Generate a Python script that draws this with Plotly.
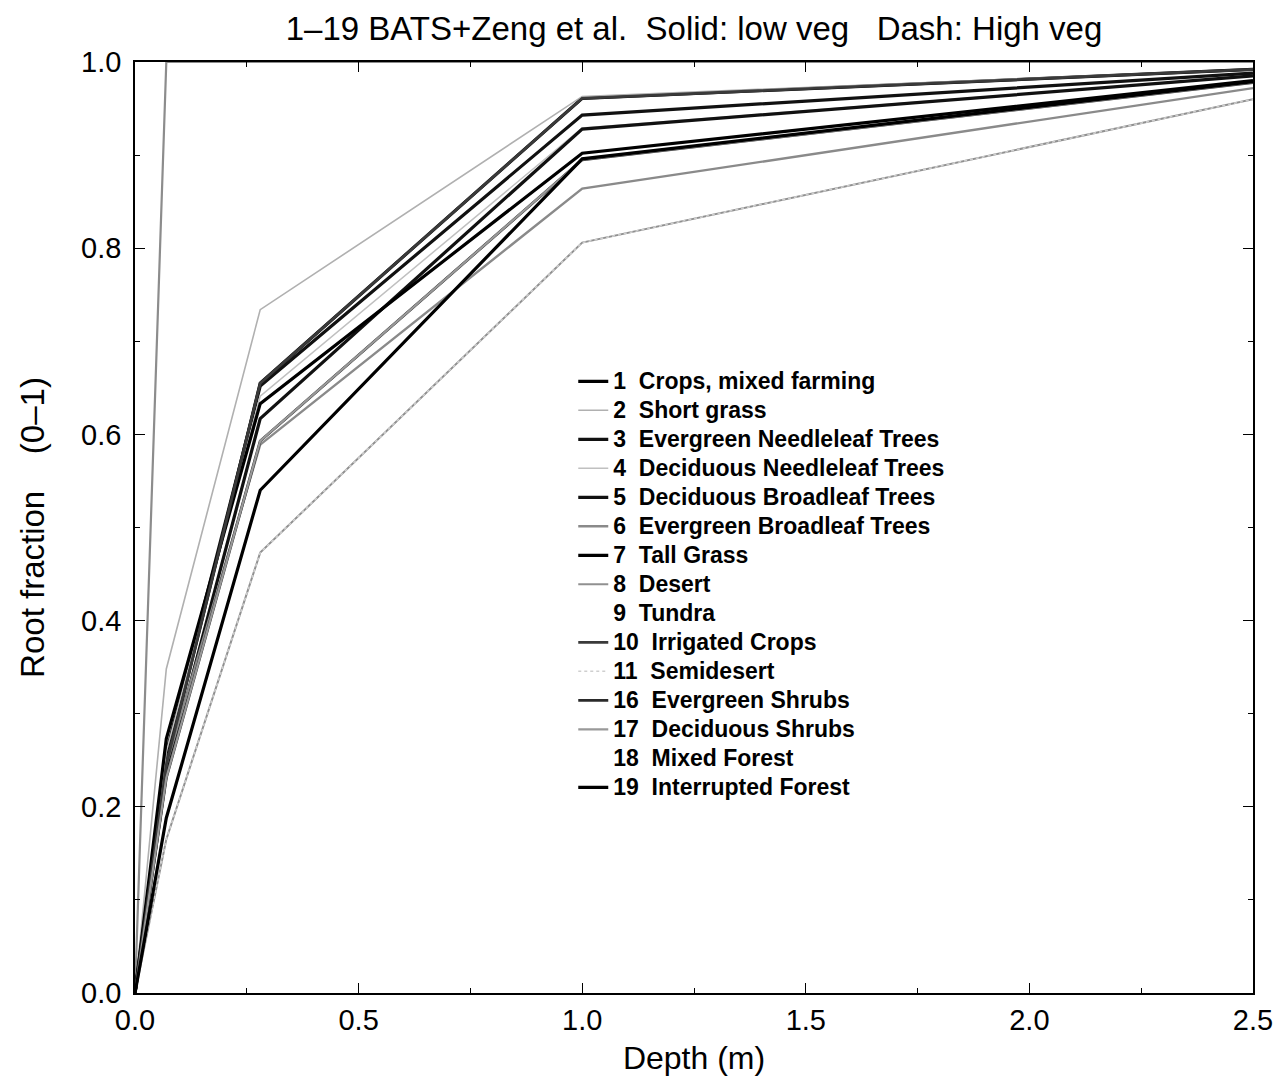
import plotly.graph_objects as go

# Soil layer depths (m) at which cumulative root fraction is plotted
depth = [0.0, 0.07, 0.28, 1.0, 2.5]

# Cumulative root fraction per vegetation type
crops = [0.0, 0.245, 0.655, 0.961, 0.992]
short_grass = [0.0, 0.348, 0.734, 0.963, 0.992]
evergreen_needleleaf = [0.0, 0.258, 0.652, 0.943, 0.988]
deciduous_needleleaf = [0.0, 0.259, 0.641, 0.929, 0.985]
deciduous_broadleaf = [0.0, 0.235, 0.617, 0.928, 0.985]
evergreen_broadleaf = [0.0, 0.245, 0.589, 0.864, 0.972]
tall_grass = [0.0, 0.273, 0.633, 0.902, 0.980]
desert = [0.0, 0.165, 0.473, 0.806, 0.960]
tundra = [0.0, 0.467, 0.919, 1.0, 1.0]
irrigated_crops = [0.0, 0.245, 0.655, 0.961, 0.992]
semidesert = [0.0, 0.165, 0.473, 0.806, 0.960]
evergreen_shrubs = [0.0, 0.231, 0.593, 0.895, 0.978]
deciduous_shrubs = [0.0, 0.231, 0.593, 0.895, 0.978]
mixed_forest = [0.0, 0.188, 0.540, 0.896, 0.979]
interrupted_forest = [0.0, 0.188, 0.540, 0.896, 0.979]
top_layer_only = [0.0, 1.0, 1.0, 1.0, 1.0]

labels = ["1  Crops, mixed farming", "2  Short grass", "3  Evergreen Needleleaf Trees",
          "4  Deciduous Needleleaf Trees", "5  Deciduous Broadleaf Trees",
          "6  Evergreen Broadleaf Trees", "7  Tall Grass", "8  Desert", "9  Tundra",
          "10  Irrigated Crops", "11  Semidesert", "16  Evergreen Shrubs",
          "17  Deciduous Shrubs", "18  Mixed Forest", "19  Interrupted Forest"]
series = [crops, short_grass, evergreen_needleleaf, deciduous_needleleaf,
          deciduous_broadleaf, evergreen_broadleaf, tall_grass, desert, tundra,
          irrigated_crops, semidesert, evergreen_shrubs, deciduous_shrubs,
          mixed_forest, interrupted_forest]

styles = [
    ("#000000", 3.2, "solid"),
    ("#b0b0b0", 1.6, "solid"),
    ("#111111", 3.2, "solid"),
    ("#c0c0c0", 1.5, "solid"),
    ("#111111", 3.2, "solid"),
    ("#8a8a8a", 2.4, "solid"),
    ("#000000", 3.2, "solid"),
    ("#909090", 2.0, "solid"),
    ("rgba(255,255,255,0)", 2.0, "solid"),
    ("#3a3a3a", 2.8, "solid"),
    ("#cfcfcf", 1.6, "dot"),
    ("#2a2a2a", 2.8, "solid"),
    ("#999999", 2.2, "solid"),
    ("rgba(255,255,255,0)", 2.0, "solid"),
    ("#000000", 3.2, "solid"),
]

FONT = "Liberation Sans, Arial, sans-serif"

fig = go.Figure()

fig.add_trace(go.Scatter(x=depth, y=top_layer_only, mode="lines",
                         line=dict(color="#8c8c8c", width=2.2),
                         showlegend=False, hoverinfo="skip"))

for name, ys, (col, w, dash) in zip(labels, series, styles):
    fig.add_trace(go.Scatter(
        x=depth, y=ys, mode="lines",
        name='<span style="font-size:23px">' + name + '</span>',
        line=dict(color=col, width=w, dash=dash)))

axis_common = dict(
    showline=True, linecolor="black", linewidth=1.6, mirror="ticks",
    ticks="inside", ticklen=10, tickwidth=1.2, tickcolor="black",
    showgrid=False, zeroline=False,
    tickfont=dict(family=FONT, size=29, color="black"),
)

fig.update_xaxes(range=[0, 2.5], tickvals=[0, 0.5, 1.0, 1.5, 2.0, 2.5],
                 ticktext=["0.0", "0.5", "1.0", "1.5", "2.0", "2.5"],
                 minor=dict(dtick=0.25, ticks="inside", ticklen=5, tickcolor="black"),
                 ticklabelstandoff=0,
                 title=dict(text="Depth (m)", standoff=12,
                            font=dict(family=FONT, size=32, color="black")),
                 **axis_common)
fig.update_yaxes(range=[0, 1.0], tickvals=[0, 0.2, 0.4, 0.6, 0.8, 1.0],
                 ticktext=["0.0", "0.2", "0.4", "0.6", "0.8", "1.0"],
                 minor=dict(dtick=0.1, ticks="inside", ticklen=5, tickcolor="black"),
                 ticklabelstandoff=6,
                 title=dict(text="Root fraction    (0\u20131)", standoff=27,
                            font=dict(family=FONT, size=33, color="black")),
                 **axis_common)

# page has an 8px body margin: figure is 1277x1077 so the plot lands where the reference's does
fig.update_layout(
    width=1277, height=1077,
    margin=dict(l=127, r=28, t=54, b=92),
    paper_bgcolor="white", plot_bgcolor="white",
    title=dict(text="1\u201319 BATS+Zeng et al.  Solid: low veg   Dash: High veg",
               x=0.5, xref="paper", xanchor="center", y=1 - 20 / 1077, yanchor="middle",
               font=dict(family=FONT, size=33, color="black")),
    legend=dict(x=0.392, y=0.678, xanchor="left", yanchor="top",
                bgcolor="rgba(255,255,255,0)", borderwidth=0,
                font=dict(family=FONT, size=20, color="black", weight="bold"),
                tracegroupgap=0),
    showlegend=True,
)

fig.write_html("out.html")
